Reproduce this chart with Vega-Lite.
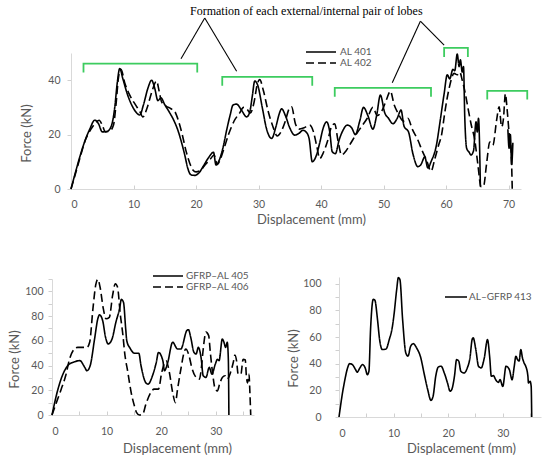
{
  "$schema": "https://vega.github.io/schema/vega-lite/v6.json",
  "background": "white",
  "padding": {"left": 8, "top": 4, "right": 2, "bottom": 2},
  "spacing": 43,
  "resolve": {"scale": {"strokeDash": "independent"}, "legend": {"strokeDash": "independent"}},
  "config": {
    "view": {"stroke": null},
    "font": "Lato",
    "axis": {
      "labelFont": "Lato", "titleFont": "Lato", "labelFontSize": 10.5, "titleFontSize": 13,
      "titleFontWeight": "normal", "labelColor": "#595959", "titleColor": "#595959",
      "domainColor": "#d9d9d9", "tickColor": "#d0d0d0", "grid": false
    },
    "legend": {"labelFont": "Lato", "labelFontSize": 10, "labelColor": "#595959", "padding": 0, "rowPadding": 0}
  },
  "vconcat": [
    {
      "width": 469,
      "height": 136,
      "layer": [
        {
          "data": {"values": [
            {"s":"AL  401","g":"a","d":0,"f":0},{"s":"AL  401","g":"a","d":0.7,"f":6},{"s":"AL  401","g":"a","d":1.5,"f":12.5},{"s":"AL  401","g":"a","d":2.2,"f":17.5},{"s":"AL  401","g":"a","d":3,"f":22},{"s":"AL  401","g":"a","d":3.8,"f":25.3},{"s":"AL  401","g":"a","d":4.4,"f":24},{"s":"AL  401","g":"a","d":5,"f":21},{"s":"AL  401","g":"a","d":5.8,"f":21.2},{"s":"AL  401","g":"a","d":6.5,"f":23.5},{"s":"AL  401","g":"a","d":7,"f":30},{"s":"AL  401","g":"a","d":7.4,"f":39},{"s":"AL  401","g":"a","d":7.8,"f":44.3},{"s":"AL  401","g":"a","d":8.3,"f":40.5},{"s":"AL  401","g":"a","d":9,"f":35},{"s":"AL  401","g":"a","d":9.8,"f":30.5},{"s":"AL  401","g":"a","d":10.5,"f":28},{"s":"AL  401","g":"a","d":11,"f":27.2},{"s":"AL  401","g":"a","d":11.6,"f":31},{"s":"AL  401","g":"a","d":12.3,"f":37},{"s":"AL  401","g":"a","d":12.9,"f":40},{"s":"AL  401","g":"a","d":13.4,"f":37},{"s":"AL  401","g":"a","d":13.9,"f":32.5},{"s":"AL  401","g":"a","d":14.4,"f":33.5},{"s":"AL  401","g":"a","d":15,"f":31},{"s":"AL  401","g":"a","d":15.8,"f":28},{"s":"AL  401","g":"a","d":16.5,"f":25},{"s":"AL  401","g":"a","d":17.1,"f":21.6},{"s":"AL  401","g":"a","d":17.7,"f":17},{"s":"AL  401","g":"a","d":18.2,"f":12.5},{"s":"AL  401","g":"a","d":18.7,"f":7.5},{"s":"AL  401","g":"a","d":19.2,"f":5.2},{"s":"AL  401","g":"a","d":19.8,"f":5},{"s":"AL  401","g":"a","d":20.5,"f":6},{"s":"AL  401","g":"a","d":21.2,"f":8.5},{"s":"AL  401","g":"a","d":22,"f":11.5},{"s":"AL  401","g":"a","d":22.8,"f":13.5},{"s":"AL  401","g":"a","d":23.2,"f":8.8},{"s":"AL  401","g":"a","d":23.7,"f":10.5},{"s":"AL  401","g":"a","d":24.3,"f":15},{"s":"AL  401","g":"a","d":24.9,"f":21.6},{"s":"AL  401","g":"a","d":25.5,"f":27.5},{"s":"AL  401","g":"a","d":25.9,"f":30.8},{"s":"AL  401","g":"a","d":26.5,"f":31.2},{"s":"AL  401","g":"a","d":27.3,"f":28.9},{"s":"AL  401","g":"a","d":28.1,"f":26.5},{"s":"AL  401","g":"a","d":28.6,"f":28.3},{"s":"AL  401","g":"a","d":29,"f":34},{"s":"AL  401","g":"a","d":29.4,"f":39.7},{"s":"AL  401","g":"a","d":29.9,"f":38},{"s":"AL  401","g":"a","d":30.6,"f":30},{"s":"AL  401","g":"a","d":31.3,"f":22},{"s":"AL  401","g":"a","d":32.1,"f":18.6},{"s":"AL  401","g":"a","d":32.8,"f":23},{"s":"AL  401","g":"a","d":33.3,"f":27.5},{"s":"AL  401","g":"a","d":33.7,"f":29.5},{"s":"AL  401","g":"a","d":34.3,"f":27},{"s":"AL  401","g":"a","d":35,"f":22.5},{"s":"AL  401","g":"a","d":35.8,"f":19.8},{"s":"AL  401","g":"a","d":36.5,"f":20.5},{"s":"AL  401","g":"a","d":37.1,"f":21.6},{"s":"AL  401","g":"a","d":37.6,"f":21},{"s":"AL  401","g":"a","d":38.1,"f":18.5},{"s":"AL  401","g":"a","d":38.6,"f":10},{"s":"AL  401","g":"a","d":39.2,"f":12},{"s":"AL  401","g":"a","d":39.8,"f":17},{"s":"AL  401","g":"a","d":40.3,"f":22},{"s":"AL  401","g":"a","d":40.9,"f":24.7},{"s":"AL  401","g":"a","d":41.4,"f":21},{"s":"AL  401","g":"a","d":41.8,"f":13.7},{"s":"AL  401","g":"a","d":42.3,"f":13},{"s":"AL  401","g":"a","d":42.9,"f":18},{"s":"AL  401","g":"a","d":43.5,"f":21.5},{"s":"AL  401","g":"a","d":44.2,"f":23.5},{"s":"AL  401","g":"a","d":44.9,"f":22.5},{"s":"AL  401","g":"a","d":45.5,"f":20},{"s":"AL  401","g":"a","d":46.2,"f":25},{"s":"AL  401","g":"a","d":46.8,"f":30},{"s":"AL  401","g":"a","d":47.5,"f":27},{"s":"AL  401","g":"a","d":48.3,"f":22},{"s":"AL  401","g":"a","d":48.9,"f":27},{"s":"AL  401","g":"a","d":49.5,"f":34.5},{"s":"AL  401","g":"a","d":50.2,"f":28},{"s":"AL  401","g":"a","d":50.8,"f":26},{"s":"AL  401","g":"a","d":51.5,"f":24},{"s":"AL  401","g":"a","d":52.2,"f":26},{"s":"AL  401","g":"a","d":52.8,"f":29},{"s":"AL  401","g":"a","d":53.3,"f":23},{"s":"AL  401","g":"a","d":54,"f":21},{"s":"AL  401","g":"a","d":54.7,"f":13},{"s":"AL  401","g":"a","d":55.5,"f":8.2},{"s":"AL  401","g":"a","d":56,"f":9},{"s":"AL  401","g":"a","d":56.6,"f":11.8},{"s":"AL  401","g":"a","d":57.1,"f":7.7},{"s":"AL  401","g":"a","d":57.6,"f":10},{"s":"AL  401","g":"a","d":58.5,"f":16.5},{"s":"AL  401","g":"a","d":59,"f":24},{"s":"AL  401","g":"a","d":59.7,"f":35},{"s":"AL  401","g":"a","d":60.2,"f":42},{"s":"AL  401","g":"a","d":60.6,"f":40.5},{"s":"AL  401","g":"a","d":61.1,"f":44},{"s":"AL  401","g":"a","d":61.4,"f":43.5},{"s":"AL  401","g":"a","d":61.8,"f":49.6},{"s":"AL  401","g":"a","d":62.1,"f":45},{"s":"AL  401","g":"a","d":62.3,"f":47.5},{"s":"AL  401","g":"a","d":62.6,"f":43},{"s":"AL  401","g":"a","d":62.8,"f":45},{"s":"AL  401","g":"a","d":63,"f":26.6},{"s":"AL  401","g":"a","d":63.3,"f":15},{"s":"AL  401","g":"a","d":63.7,"f":13.5},{"s":"AL  401","g":"a","d":64,"f":12.5},{"s":"AL  401","g":"a","d":64.4,"f":14},{"s":"AL  401","g":"a","d":64.8,"f":24.7},{"s":"AL  401","g":"a","d":65,"f":21},{"s":"AL  401","g":"a","d":65.2,"f":26},{"s":"AL  401","g":"a","d":65.5,"f":0.8},
            {"s":"AL  401","g":"b","d":69.9,"f":22},{"s":"AL  401","g":"b","d":70.1,"f":15},{"s":"AL  401","g":"b","d":70.3,"f":20},{"s":"AL  401","g":"b","d":70.5,"f":9},{"s":"AL  401","g":"b","d":70.7,"f":17},
            {"s":"AL  402","g":"c","d":0,"f":0},{"s":"AL  402","g":"c","d":0.7,"f":5.5},{"s":"AL  402","g":"c","d":1.5,"f":12},{"s":"AL  402","g":"c","d":2.3,"f":18},{"s":"AL  402","g":"c","d":3.2,"f":22},{"s":"AL  402","g":"c","d":4,"f":24.5},{"s":"AL  402","g":"c","d":4.5,"f":25.3},{"s":"AL  402","g":"c","d":5,"f":23.5},{"s":"AL  402","g":"c","d":5.5,"f":21},{"s":"AL  402","g":"c","d":6.2,"f":21.3},{"s":"AL  402","g":"c","d":6.8,"f":23.5},{"s":"AL  402","g":"c","d":7.2,"f":31},{"s":"AL  402","g":"c","d":7.6,"f":41},{"s":"AL  402","g":"c","d":8,"f":44},{"s":"AL  402","g":"c","d":8.6,"f":39},{"s":"AL  402","g":"c","d":9.4,"f":34.5},{"s":"AL  402","g":"c","d":10.3,"f":31},{"s":"AL  402","g":"c","d":11,"f":28.5},{"s":"AL  402","g":"c","d":11.5,"f":26.5},{"s":"AL  402","g":"c","d":12.2,"f":30},{"s":"AL  402","g":"c","d":12.9,"f":35.5},{"s":"AL  402","g":"c","d":13.7,"f":39.7},{"s":"AL  402","g":"c","d":14.1,"f":36},{"s":"AL  402","g":"c","d":14.5,"f":32},{"s":"AL  402","g":"c","d":15.2,"f":30.5},{"s":"AL  402","g":"c","d":16,"f":29.5},{"s":"AL  402","g":"c","d":16.6,"f":28.5},{"s":"AL  402","g":"c","d":17.2,"f":25},{"s":"AL  402","g":"c","d":17.8,"f":20},{"s":"AL  402","g":"c","d":18.4,"f":14},{"s":"AL  402","g":"c","d":19,"f":9.5},{"s":"AL  402","g":"c","d":19.5,"f":7},{"s":"AL  402","g":"c","d":20,"f":6.3},{"s":"AL  402","g":"c","d":20.7,"f":6.8},{"s":"AL  402","g":"c","d":21.5,"f":9},{"s":"AL  402","g":"c","d":22.3,"f":11},{"s":"AL  402","g":"c","d":22.9,"f":12.5},{"s":"AL  402","g":"c","d":23.4,"f":9},{"s":"AL  402","g":"c","d":23.9,"f":11},{"s":"AL  402","g":"c","d":24.5,"f":15},{"s":"AL  402","g":"c","d":25.2,"f":20},{"s":"AL  402","g":"c","d":26.1,"f":25},{"s":"AL  402","g":"c","d":27,"f":28},{"s":"AL  402","g":"c","d":27.6,"f":30},{"s":"AL  402","g":"c","d":28.1,"f":29.5},{"s":"AL  402","g":"c","d":28.7,"f":28},{"s":"AL  402","g":"c","d":29.3,"f":32},{"s":"AL  402","g":"c","d":29.8,"f":38.5},{"s":"AL  402","g":"c","d":30.2,"f":40.2},{"s":"AL  402","g":"c","d":30.8,"f":36},{"s":"AL  402","g":"c","d":31.5,"f":29},{"s":"AL  402","g":"c","d":32.3,"f":23},{"s":"AL  402","g":"c","d":33,"f":19.5},{"s":"AL  402","g":"c","d":33.6,"f":21},{"s":"AL  402","g":"c","d":34.3,"f":25},{"s":"AL  402","g":"c","d":34.9,"f":29.5},{"s":"AL  402","g":"c","d":35.3,"f":30.2},{"s":"AL  402","g":"c","d":35.9,"f":24},{"s":"AL  402","g":"c","d":36.5,"f":22},{"s":"AL  402","g":"c","d":37.3,"f":22.5},{"s":"AL  402","g":"c","d":38.2,"f":23.5},{"s":"AL  402","g":"c","d":38.8,"f":21},{"s":"AL  402","g":"c","d":39.3,"f":16},{"s":"AL  402","g":"c","d":39.8,"f":11.2},{"s":"AL  402","g":"c","d":40.4,"f":13.5},{"s":"AL  402","g":"c","d":41.1,"f":18},{"s":"AL  402","g":"c","d":41.7,"f":23},{"s":"AL  402","g":"c","d":42.2,"f":24},{"s":"AL  402","g":"c","d":42.7,"f":18},{"s":"AL  402","g":"c","d":43.3,"f":12.5},{"s":"AL  402","g":"c","d":44,"f":14},{"s":"AL  402","g":"c","d":44.8,"f":17},{"s":"AL  402","g":"c","d":45.6,"f":20},{"s":"AL  402","g":"c","d":46.5,"f":23},{"s":"AL  402","g":"c","d":47.4,"f":26},{"s":"AL  402","g":"c","d":48.3,"f":30},{"s":"AL  402","g":"c","d":49,"f":27},{"s":"AL  402","g":"c","d":49.8,"f":29},{"s":"AL  402","g":"c","d":50.5,"f":33},{"s":"AL  402","g":"c","d":51.1,"f":36},{"s":"AL  402","g":"c","d":51.7,"f":31},{"s":"AL  402","g":"c","d":52.3,"f":28},{"s":"AL  402","g":"c","d":53.2,"f":25},{"s":"AL  402","g":"c","d":53.9,"f":26},{"s":"AL  402","g":"c","d":54.6,"f":22},{"s":"AL  402","g":"c","d":55.5,"f":18},{"s":"AL  402","g":"c","d":56.2,"f":14},{"s":"AL  402","g":"c","d":56.9,"f":10.5},{"s":"AL  402","g":"c","d":57.6,"f":6.5},{"s":"AL  402","g":"c","d":58.2,"f":11},{"s":"AL  402","g":"c","d":58.8,"f":16},{"s":"AL  402","g":"c","d":59.3,"f":20},{"s":"AL  402","g":"c","d":59.8,"f":28},{"s":"AL  402","g":"c","d":60.5,"f":37},{"s":"AL  402","g":"c","d":61.3,"f":42.5},{"s":"AL  402","g":"c","d":61.8,"f":42},{"s":"AL  402","g":"c","d":62.2,"f":43},{"s":"AL  402","g":"c","d":62.6,"f":40},{"s":"AL  402","g":"c","d":63.1,"f":35},{"s":"AL  402","g":"c","d":63.5,"f":30},{"s":"AL  402","g":"c","d":64,"f":24},{"s":"AL  402","g":"c","d":64.6,"f":18},{"s":"AL  402","g":"c","d":65.1,"f":9},{"s":"AL  402","g":"c","d":65.6,"f":0.8},{"s":"AL  402","g":"c","d":66,"f":1},{"s":"AL  402","g":"c","d":66.5,"f":9.4},{"s":"AL  402","g":"c","d":67,"f":17.3},{"s":"AL  402","g":"c","d":67.5,"f":16.1},{"s":"AL  402","g":"c","d":68.1,"f":25.3},{"s":"AL  402","g":"c","d":68.5,"f":30.2},{"s":"AL  402","g":"c","d":68.9,"f":22.8},{"s":"AL  402","g":"c","d":69.2,"f":26},{"s":"AL  402","g":"c","d":69.5,"f":35},{"s":"AL  402","g":"c","d":69.8,"f":28.7},{"s":"AL  402","g":"c","d":70.2,"f":18},{"s":"AL  402","g":"c","d":70.4,"f":15},{"s":"AL  402","g":"c","d":70.6,"f":0}
          ]},
          "mark": {"type": "line", "color": "black", "strokeWidth": 1.6, "interpolate": "monotone"},
          "encoding": {
            "x": {"field": "d", "type": "quantitative", "scale": {"domain": [0, 72], "range": [19, 469], "nice": false},
              "axis": {"title": "Displacement (mm)", "values": [0,5,10,15,20,25,30,35,40,45,50,55,60,65,70],
                "labelExpr": "datum.value % 10 === 0 ? datum.label : ''", "tickSize": -4, "labelPadding": 14, "titlePadding": 4, "titleX": 259}},
            "y": {"field": "f", "type": "quantitative", "scale": {"domain": [0, 50], "nice": false},
              "axis": {"title": "Force (kN)", "values": [0,5,10,15,20,25,30,35,40,45,50], "offset": -19,
                "labelExpr": "datum.value % 10 === 0 ? datum.label : ''", "tickSize": 4, "labelPadding": 7, "titlePadding": 14, "titleY": 80}},
            "strokeDash": {"field": "s", "type": "nominal",
              "scale": {"domain": ["AL  401", "AL  402"], "range": [[1, 0], [8, 4]]},
              "legend": {"orient": "none", "legendX": 263, "legendY": -7, "title": null, "symbolType": "M-3,0H3", "symbolSize": 100,
                "symbolStrokeWidth": 1.6, "symbolStrokeColor": "black", "labelOffset": 13}},
            "detail": {"field": "g", "type": "nominal"}
          }
        },
        {
          "data": {"values": [
            {"b":1,"k":0,"x":2.0,"y":42.8},{"b":1,"k":1,"x":2.0,"y":46.1},{"b":1,"k":2,"x":20.2,"y":46.1},{"b":1,"k":3,"x":20.2,"y":42.8},
            {"b":2,"k":0,"x":24.2,"y":38.0},{"b":2,"k":1,"x":24.2,"y":41.2},{"b":2,"k":2,"x":38.6,"y":41.2},{"b":2,"k":3,"x":38.6,"y":38.0},
            {"b":3,"k":0,"x":42.2,"y":33.9},{"b":3,"k":1,"x":42.2,"y":37.2},{"b":3,"k":2,"x":57.6,"y":37.2},{"b":3,"k":3,"x":57.6,"y":33.9},
            {"b":4,"k":0,"x":59.7,"y":48.5},{"b":4,"k":1,"x":59.7,"y":51.9},{"b":4,"k":2,"x":63.5,"y":51.9},{"b":4,"k":3,"x":63.5,"y":48.5},
            {"b":5,"k":0,"x":66.6,"y":32.9},{"b":5,"k":1,"x":66.6,"y":36.1},{"b":5,"k":2,"x":73.0,"y":36.1},{"b":5,"k":3,"x":73.0,"y":32.9}
          ]},
          "mark": {"type": "line", "color": "#3dcc5f", "strokeWidth": 1.8, "clip": false},
          "encoding": {
            "x": {"field": "x", "type": "quantitative"},
            "y": {"field": "y", "type": "quantitative"},
            "detail": {"field": "b", "type": "nominal"},
            "order": {"field": "k", "type": "quantitative"}
          }
        },
        {
          "data": {"values": [
            {"x0": 21.4, "y0": 62.9, "x1": 17.6, "y1": 47.9},
            {"x0": 21.4, "y0": 62.9, "x1": 26.5, "y1": 43.3},
            {"x0": 55.9, "y0": 61.7, "x1": 51.4, "y1": 39.1},
            {"x0": 55.9, "y0": 61.7, "x1": 59.7, "y1": 52.9}
          ]},
          "mark": {"type": "rule", "color": "black", "strokeWidth": 1.1, "clip": false},
          "encoding": {
            "x": {"field": "x0", "type": "quantitative"},
            "y": {"field": "y0", "type": "quantitative"},
            "x2": {"field": "x1"},
            "y2": {"field": "y1"}
          }
        },
        {
          "mark": {"type": "point", "shape": "triangle-up", "filled": true, "color": "black", "size": 30, "opacity": 1, "angle": 210, "clip": false},
          "encoding": {"x": {"datum": 17.64, "type": "quantitative"}, "y": {"datum": 47.95, "type": "quantitative"}}
        },
        {
          "mark": {"type": "point", "shape": "triangle-up", "filled": true, "color": "black", "size": 30, "opacity": 1, "angle": 149, "clip": false},
          "encoding": {"x": {"datum": 26.46, "type": "quantitative"}, "y": {"datum": 43.35, "type": "quantitative"}}
        },
        {
          "mark": {"type": "point", "shape": "triangle-up", "filled": true, "color": "black", "size": 30, "opacity": 1, "angle": 204, "clip": false},
          "encoding": {"x": {"datum": 51.45, "type": "quantitative"}, "y": {"datum": 39.1, "type": "quantitative"}}
        },
        {
          "mark": {"type": "point", "shape": "triangle-up", "filled": true, "color": "black", "size": 30, "opacity": 1, "angle": 135, "clip": false},
          "encoding": {"x": {"datum": 59.71, "type": "quantitative"}, "y": {"datum": 52.88, "type": "quantitative"}}
        },
        {
          "data": {"values": [{"x": 37.65, "y": 65.6, "t": "Formation of each external/internal pair of lobes"}]},
          "mark": {"type": "text", "font": "Liberation Serif", "fontSize": 12, "color": "black", "align": "center", "baseline": "middle", "clip": false},
          "encoding": {
            "x": {"field": "x", "type": "quantitative"},
            "y": {"field": "y", "type": "quantitative"},
            "text": {"field": "t", "type": "nominal"}
          }
        }
      ]
    },
    {
      "hconcat": [
        {
          "width": 202,
          "height": 136,
          "data": {"values": [
            {"s":"GFRP–AL  405","d":0,"f":0},{"s":"GFRP–AL  405","d":1.1,"f":21},{"s":"GFRP–AL  405","d":2,"f":33},{"s":"GFRP–AL  405","d":2.9,"f":40},{"s":"GFRP–AL  405","d":4.1,"f":43},{"s":"GFRP–AL  405","d":5.1,"f":44},{"s":"GFRP–AL  405","d":6,"f":38.5},{"s":"GFRP–AL  405","d":6.4,"f":35.8},{"s":"GFRP–AL  405","d":7,"f":40},{"s":"GFRP–AL  405","d":7.8,"f":61.5},{"s":"GFRP–AL  405","d":8.4,"f":78},{"s":"GFRP–AL  405","d":8.7,"f":81},{"s":"GFRP–AL  405","d":9.3,"f":76},{"s":"GFRP–AL  405","d":9.8,"f":63},{"s":"GFRP–AL  405","d":10.3,"f":57.5},{"s":"GFRP–AL  405","d":11,"f":61.5},{"s":"GFRP–AL  405","d":11.7,"f":75},{"s":"GFRP–AL  405","d":12.4,"f":86.5},{"s":"GFRP–AL  405","d":12.7,"f":93.5},{"s":"GFRP–AL  405","d":13.1,"f":91},{"s":"GFRP–AL  405","d":13.5,"f":69.6},{"s":"GFRP–AL  405","d":13.7,"f":60},{"s":"GFRP–AL  405","d":14.3,"f":54},{"s":"GFRP–AL  405","d":15.1,"f":50},{"s":"GFRP–AL  405","d":15.9,"f":50},{"s":"GFRP–AL  405","d":16.3,"f":40},{"s":"GFRP–AL  405","d":17.2,"f":26},{"s":"GFRP–AL  405","d":17.6,"f":25},{"s":"GFRP–AL  405","d":18.4,"f":31.7},{"s":"GFRP–AL  405","d":19.1,"f":42.5},{"s":"GFRP–AL  405","d":19.5,"f":50.6},{"s":"GFRP–AL  405","d":20.3,"f":44},{"s":"GFRP–AL  405","d":20.6,"f":35.8},{"s":"GFRP–AL  405","d":21.2,"f":42.5},{"s":"GFRP–AL  405","d":22.1,"f":58.8},{"s":"GFRP–AL  405","d":23,"f":53.4},{"s":"GFRP–AL  405","d":23.6,"f":53.4},{"s":"GFRP–AL  405","d":24.7,"f":68.3},{"s":"GFRP–AL  405","d":25,"f":69},{"s":"GFRP–AL  405","d":25.4,"f":63},{"s":"GFRP–AL  405","d":26,"f":50.7},{"s":"GFRP–AL  405","d":26.4,"f":49.3},{"s":"GFRP–AL  405","d":26.8,"f":54.7},{"s":"GFRP–AL  405","d":27.3,"f":46.6},{"s":"GFRP–AL  405","d":27.7,"f":31.7},{"s":"GFRP–AL  405","d":28.2,"f":30.4},{"s":"GFRP–AL  405","d":28.8,"f":38.5},{"s":"GFRP–AL  405","d":29.3,"f":33},{"s":"GFRP–AL  405","d":29.9,"f":41},{"s":"GFRP–AL  405","d":30.3,"f":45},{"s":"GFRP–AL  405","d":30.6,"f":44},{"s":"GFRP–AL  405","d":31.2,"f":61.5},{"s":"GFRP–AL  405","d":31.5,"f":58.8},{"s":"GFRP–AL  405","d":31.8,"f":54.7},{"s":"GFRP–AL  405","d":32.1,"f":58.8},{"s":"GFRP–AL  405","d":32.3,"f":45},{"s":"GFRP–AL  405","d":32.4,"f":0},
            {"s":"GFRP–AL  406","d":0,"f":0},{"s":"GFRP–AL  406","d":0.8,"f":10},{"s":"GFRP–AL  406","d":1.7,"f":21},{"s":"GFRP–AL  406","d":2.5,"f":31.7},{"s":"GFRP–AL  406","d":3.2,"f":45},{"s":"GFRP–AL  406","d":4.1,"f":53.4},{"s":"GFRP–AL  406","d":4.7,"f":54.7},{"s":"GFRP–AL  406","d":5.7,"f":54.7},{"s":"GFRP–AL  406","d":6.4,"f":54.7},{"s":"GFRP–AL  406","d":6.9,"f":58.8},{"s":"GFRP–AL  406","d":7.5,"f":86},{"s":"GFRP–AL  406","d":8,"f":105},{"s":"GFRP–AL  406","d":8.4,"f":109.8},{"s":"GFRP–AL  406","d":8.8,"f":103.5},{"s":"GFRP–AL  406","d":9.4,"f":86},{"s":"GFRP–AL  406","d":9.9,"f":77.8},{"s":"GFRP–AL  406","d":10.5,"f":79},{"s":"GFRP–AL  406","d":11.1,"f":96.7},{"s":"GFRP–AL  406","d":11.6,"f":106.2},{"s":"GFRP–AL  406","d":12,"f":103.5},{"s":"GFRP–AL  406","d":12.5,"f":81.8},{"s":"GFRP–AL  406","d":13,"f":64.2},{"s":"GFRP–AL  406","d":13.3,"f":50.7},{"s":"GFRP–AL  406","d":13.9,"f":34.4},{"s":"GFRP–AL  406","d":14.5,"f":18.2},{"s":"GFRP–AL  406","d":15.1,"f":7.3},{"s":"GFRP–AL  406","d":15.5,"f":1.9},{"s":"GFRP–AL  406","d":16,"f":0},{"s":"GFRP–AL  406","d":16.6,"f":0.5},{"s":"GFRP–AL  406","d":17.2,"f":8.7},{"s":"GFRP–AL  406","d":18.1,"f":18.2},{"s":"GFRP–AL  406","d":18.7,"f":20.9},{"s":"GFRP–AL  406","d":19.5,"f":20.9},{"s":"GFRP–AL  406","d":20.1,"f":34.4},{"s":"GFRP–AL  406","d":20.9,"f":43.9},{"s":"GFRP–AL  406","d":21.5,"f":34.4},{"s":"GFRP–AL  406","d":22.1,"f":18.2},{"s":"GFRP–AL  406","d":22.6,"f":10},{"s":"GFRP–AL  406","d":23,"f":20.9},{"s":"GFRP–AL  406","d":23.6,"f":37},{"s":"GFRP–AL  406","d":24.2,"f":50.7},{"s":"GFRP–AL  406","d":24.5,"f":53.4},{"s":"GFRP–AL  406","d":25.1,"f":48},{"s":"GFRP–AL  406","d":25.6,"f":38.5},{"s":"GFRP–AL  406","d":26.4,"f":30.4},{"s":"GFRP–AL  406","d":27,"f":29},{"s":"GFRP–AL  406","d":27.4,"f":39.8},{"s":"GFRP–AL  406","d":27.7,"f":53.4},{"s":"GFRP–AL  406","d":28.2,"f":67},{"s":"GFRP–AL  406","d":28.7,"f":64.2},{"s":"GFRP–AL  406","d":29,"f":50.7},{"s":"GFRP–AL  406","d":29.4,"f":34.4},{"s":"GFRP–AL  406","d":29.9,"f":20.9},{"s":"GFRP–AL  406","d":30.3,"f":19.5},{"s":"GFRP–AL  406","d":30.7,"f":25},{"s":"GFRP–AL  406","d":31.2,"f":30.4},{"s":"GFRP–AL  406","d":31.7,"f":31.7},{"s":"GFRP–AL  406","d":32.1,"f":29},{"s":"GFRP–AL  406","d":32.7,"f":34.4},{"s":"GFRP–AL  406","d":33.2,"f":42.5},{"s":"GFRP–AL  406","d":33.5,"f":48.5},{"s":"GFRP–AL  406","d":33.8,"f":44},{"s":"GFRP–AL  406","d":34.1,"f":33},{"s":"GFRP–AL  406","d":34.6,"f":33},{"s":"GFRP–AL  406","d":35,"f":45},{"s":"GFRP–AL  406","d":35.4,"f":44.7},{"s":"GFRP–AL  406","d":35.6,"f":31.7},{"s":"GFRP–AL  406","d":35.8,"f":26},{"s":"GFRP–AL  406","d":36.1,"f":33},{"s":"GFRP–AL  406","d":36.2,"f":23.6},{"s":"GFRP–AL  406","d":36.4,"f":0}
          ]},
          "mark": {"type": "line", "color": "black", "strokeWidth": 1.6, "interpolate": "monotone"},
          "encoding": {
            "x": {"field": "d", "type": "quantitative", "scale": {"domain": [0, 37], "nice": false},
              "axis": {"title": "Displacement (mm)", "values": [0,5,10,15,20,25,30,35],
                "labelExpr": "datum.value % 10 === 0 ? datum.label : ''", "tickSize": -4, "labelPadding": 15, "titlePadding": 6, "titleX": 125}},
            "y": {"field": "f", "type": "quantitative", "scale": {"domain": [0, 110], "nice": false},
              "axis": {"title": "Force (kN)", "values": [0,10,20,30,40,50,60,70,80,90,100,110],
                "labelExpr": "datum.value % 20 === 0 ? datum.label : ''", "tickSize": 4, "labelPadding": 5, "titlePadding": 3, "titleY": 80}},
            "strokeDash": {"field": "s", "type": "nominal",
              "scale": {"domain": ["GFRP–AL  405", "GFRP–AL  406"], "range": [[1, 0], [8, 4]]},
              "legend": {"orient": "none", "legendX": 110, "legendY": -9, "title": null, "symbolType": "M-3,0H3", "symbolSize": 100,
                "symbolStrokeWidth": 1.6, "symbolStrokeColor": "black", "labelOffset": 12, "rowPadding": 0}}
          }
        },
        {
          "width": 202,
          "height": 140,
          "data": {"values": [
            {"s":"AL–GFRP  413","d":0,"f":0},{"s":"AL–GFRP  413","d":0.59,"f":16.8},{"s":"AL–GFRP  413","d":1.08,"f":28},{"s":"AL–GFRP  413","d":1.57,"f":36.8},{"s":"AL–GFRP  413","d":1.96,"f":40},{"s":"AL–GFRP  413","d":2.45,"f":39.3},{"s":"AL–GFRP  413","d":3.03,"f":35.6},{"s":"AL–GFRP  413","d":3.33,"f":33.6},{"s":"AL–GFRP  413","d":3.82,"f":36.8},{"s":"AL–GFRP  413","d":4.31,"f":39.3},{"s":"AL–GFRP  413","d":4.8,"f":36.8},{"s":"AL–GFRP  413","d":5.19,"f":31.8},{"s":"AL–GFRP  413","d":5.48,"f":34.3},{"s":"AL–GFRP  413","d":5.78,"f":65.7},{"s":"AL–GFRP  413","d":6.27,"f":88.2},{"s":"AL–GFRP  413","d":6.56,"f":87.7},{"s":"AL–GFRP  413","d":7.05,"f":73.2},{"s":"AL–GFRP  413","d":7.44,"f":58},{"s":"AL–GFRP  413","d":7.93,"f":50.6},{"s":"AL–GFRP  413","d":8.62,"f":51},{"s":"AL–GFRP  413","d":9.2,"f":58},{"s":"AL–GFRP  413","d":9.79,"f":68},{"s":"AL–GFRP  413","d":10.08,"f":76.9},{"s":"AL–GFRP  413","d":10.57,"f":95.7},{"s":"AL–GFRP  413","d":10.87,"f":104.5},{"s":"AL–GFRP  413","d":11.16,"f":103},{"s":"AL–GFRP  413","d":11.65,"f":73.2},{"s":"AL–GFRP  413","d":12.24,"f":48},{"s":"AL–GFRP  413","d":12.63,"f":45.6},{"s":"AL–GFRP  413","d":13.12,"f":53},{"s":"AL–GFRP  413","d":13.61,"f":55},{"s":"AL–GFRP  413","d":14.2,"f":51.9},{"s":"AL–GFRP  413","d":14.98,"f":44.4},{"s":"AL–GFRP  413","d":15.57,"f":33},{"s":"AL–GFRP  413","d":16.25,"f":20.5},{"s":"AL–GFRP  413","d":16.84,"f":12.5},{"s":"AL–GFRP  413","d":17.23,"f":15.5},{"s":"AL–GFRP  413","d":17.72,"f":30.6},{"s":"AL–GFRP  413","d":18.21,"f":37.6},{"s":"AL–GFRP  413","d":18.7,"f":38.1},{"s":"AL–GFRP  413","d":19.29,"f":33},{"s":"AL–GFRP  413","d":19.87,"f":25.6},{"s":"AL–GFRP  413","d":20.36,"f":19.3},{"s":"AL–GFRP  413","d":20.66,"f":20.6},{"s":"AL–GFRP  413","d":21.15,"f":30.6},{"s":"AL–GFRP  413","d":21.54,"f":43},{"s":"AL–GFRP  413","d":21.93,"f":41.9},{"s":"AL–GFRP  413","d":22.32,"f":34.3},{"s":"AL–GFRP  413","d":22.91,"f":33},{"s":"AL–GFRP  413","d":23.5,"f":36.8},{"s":"AL–GFRP  413","d":23.99,"f":44.4},{"s":"AL–GFRP  413","d":24.38,"f":58},{"s":"AL–GFRP  413","d":24.57,"f":59.4},{"s":"AL–GFRP  413","d":25.06,"f":50.6},{"s":"AL–GFRP  413","d":25.55,"f":38.1},{"s":"AL–GFRP  413","d":26.04,"f":36.8},{"s":"AL–GFRP  413","d":26.6,"f":44},{"s":"AL–GFRP  413","d":27.2,"f":58},{"s":"AL–GFRP  413","d":27.6,"f":45},{"s":"AL–GFRP  413","d":27.9,"f":30.6},{"s":"AL–GFRP  413","d":28.3,"f":31},{"s":"AL–GFRP  413","d":28.7,"f":28},{"s":"AL–GFRP  413","d":29.2,"f":26},{"s":"AL–GFRP  413","d":29.5,"f":28},{"s":"AL–GFRP  413","d":30,"f":23},{"s":"AL–GFRP  413","d":30.6,"f":38.1},{"s":"AL–GFRP  413","d":31.2,"f":35.6},{"s":"AL–GFRP  413","d":31.7,"f":28},{"s":"AL–GFRP  413","d":32.1,"f":38},{"s":"AL–GFRP  413","d":32.4,"f":45.6},{"s":"AL–GFRP  413","d":32.7,"f":43},{"s":"AL–GFRP  413","d":33,"f":42},{"s":"AL–GFRP  413","d":33.3,"f":50.6},{"s":"AL–GFRP  413","d":33.6,"f":44.4},{"s":"AL–GFRP  413","d":33.9,"f":40.6},{"s":"AL–GFRP  413","d":34.2,"f":38.1},{"s":"AL–GFRP  413","d":34.6,"f":30.6},{"s":"AL–GFRP  413","d":34.7,"f":25.6},{"s":"AL–GFRP  413","d":35,"f":26.8},{"s":"AL–GFRP  413","d":35.2,"f":23},{"s":"AL–GFRP  413","d":35.3,"f":0}
          ]},
          "mark": {"type": "line", "color": "black", "strokeWidth": 1.6, "interpolate": "monotone"},
          "encoding": {
            "x": {"field": "d", "type": "quantitative", "scale": {"domain": [0, 37], "nice": false},
              "axis": {"title": "Displacement (mm)", "values": [0,5,10,15,20,25,30,35],
                "labelExpr": "datum.value % 10 === 0 ? datum.label : ''", "tickSize": -4, "labelPadding": 15, "titlePadding": 4, "titleX": 122}},
            "y": {"field": "f", "type": "quantitative", "scale": {"domain": [0, 105], "nice": false},
              "axis": {"title": "Force (kN)", "values": [0,10,20,30,40,50,60,70,80,90,100],
                "labelExpr": "datum.value % 20 === 0 ? datum.label : ''", "tickSize": 4, "labelPadding": 14, "titlePadding": 2, "titleY": 81}},
            "strokeDash": {"field": "s", "type": "nominal",
              "scale": {"domain": ["AL–GFRP  413"], "range": [[1, 0]]},
              "legend": {"orient": "none", "legendX": 111, "legendY": 14, "title": null, "symbolType": "M-2.2,0H2.2", "symbolSize": 100,
                "symbolStrokeWidth": 1.6, "symbolStrokeColor": "black", "labelOffset": 7}}
          }
        }
      ],
      "spacing": 85,
      "bounds": "flush",
      "center": true,
      "resolve": {"scale": {"strokeDash": "independent"}, "legend": {"strokeDash": "independent"}}
    }
  ]
}
